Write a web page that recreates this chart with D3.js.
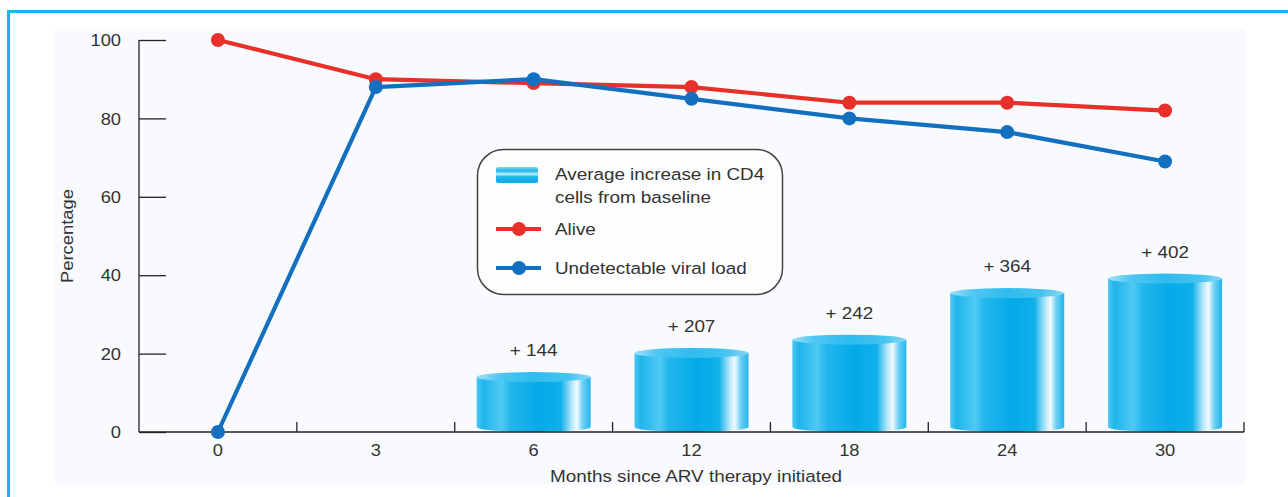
<!DOCTYPE html>
<html><head><meta charset="utf-8">
<script src="https://cdn.jsdelivr.net/npm/d3@7"></script>
<style>
html,body{margin:0;padding:0;background:#fff;}
svg{display:block;font-family:"Liberation Sans",Arial,Helvetica,sans-serif;}
</style></head>
<body><svg id="c" width="1288" height="497"></svg>
<script>
const months = ["0","3","6","12","18","24","30"];
const alive = [100, 90, 89, 88, 84, 84, 82];
const undetectable = [0, 88, 90, 85, 80, 76.5, 69];
const cd4Months = ["6","12","18","24","30"];
const cd4Increase = [144, 207, 242, 364, 402];
const yTicks = [0, 20, 40, 60, 80, 100];
const legendLabels = ["Average increase in CD4", "cells from baseline", "Alive", "Undetectable viral load"];

const svg = d3.select("#c");
const defs = svg.append("defs");
const RED = "#e8302a", BLUE = "#1370c0", TXT = "#333";
const FS = 17, TFS = 16.5, SX = 1.11;

function label(parent, x, y, str, anchor) {
  return parent.append("text").attr("transform", `translate(${x},${y}) scale(${SX},1)`)
    .attr("text-anchor", anchor || "start").attr("font-size", FS).attr("fill", TXT).text(str);
}

// frame
svg.append("rect").attr("x", 8.5).attr("y", 11.5).attr("width", 1290).attr("height", 500)
  .attr("fill", "none").attr("stroke", "#1bb3ee").attr("stroke-width", 3);
// plot background
svg.append("rect").attr("x", 55).attr("y", 29).attr("width", 1190).attr("height", 456).attr("fill", "#f9fafd");

const x = d3.scaleBand().domain(months).range([139, 1244]).padding(0);
const y = d3.scaleLinear().domain([0, 100]).range([432, 40]);
const yc = d3.scaleLinear().domain([0, 1027]).range([432, 40]);

// gradient for cylinders
const g1 = defs.append("linearGradient").attr("id", "cyl").attr("x1", 0).attr("x2", 1).attr("y1", 0).attr("y2", 0);
[[0, "#4cc6f2"], [0.06, "#1fb5ec"], [0.22, "#4fcaf4"], [0.3, "#22b6ec"], [0.55, "#03aae8"], [0.74, "#10b0ea"],
 [0.84, "#bfeafc"], [0.88, "#f2fbff"], [0.93, "#6fd0f4"], [1, "#20b4ec"]]
  .forEach(([o, c]) => g1.append("stop").attr("offset", o).attr("stop-color", c));
const g2 = defs.append("linearGradient").attr("id", "cyltop").attr("x1", 0).attr("x2", 1).attr("y1", 0).attr("y2", 0);
[[0, "#9fe0f8"], [0.2, "#4ec6f2"], [0.5, "#2fbcee"], [0.8, "#45c3f0"], [1, "#8ad9f6"]]
  .forEach(([o, c]) => g2.append("stop").attr("offset", o).attr("stop-color", c));

// y axis
const yAxis = d3.axisRight(y).tickValues(yTicks).tickSize(27).tickFormat(d3.format("d"));
const ya = svg.append("g").attr("transform", "translate(139,0)").call(yAxis);
ya.select(".domain").remove();
ya.selectAll(".tick line").attr("stroke", "#222").attr("stroke-width", 1.3);
ya.selectAll(".tick text").attr("x", -18 / SX).attr("text-anchor", "end").attr("font-size", TFS)
  .attr("transform", `scale(${SX},1)`)
  .attr("fill", TXT).attr("font-family", "Liberation Sans, Arial, sans-serif").attr("dy", "0.35em");
svg.append("line").attr("x1", 139).attr("x2", 139).attr("y1", y(100)).attr("y2", y(0))
  .attr("stroke", "#222").attr("stroke-width", 1.3);

// cylinders
const bw = 114, ry = 5;
const bars = svg.append("g");
cd4Months.forEach((m, i) => {
  const cx = x(m) + x.bandwidth() / 2, x0 = cx - bw / 2;
  const top = yc(cd4Increase[i]), bot = yc(0) - ry;
  bars.append("path")
    .attr("d", `M${x0},${top} L${x0},${bot} A${bw/2},${ry} 0 0 0 ${x0+bw},${bot} L${x0+bw},${top} Z`)
    .attr("fill", "url(#cyl)");
  bars.append("ellipse").attr("cx", cx).attr("cy", top).attr("rx", bw / 2).attr("ry", ry).attr("fill", "url(#cyltop)");
  label(bars, cx, top - 21, "+ " + cd4Increase[i], "middle");
});

// x axis
const xAxis = d3.axisBottom(x).tickSize(0).tickPadding(12);
const xa = svg.append("g").attr("transform", "translate(0,432)").call(xAxis);
xa.select(".domain").remove();
xa.selectAll(".tick text").attr("font-size", TFS).attr("fill", TXT).attr("transform", `scale(${SX},1)`)
  .attr("font-family", "Liberation Sans, Arial, sans-serif");
svg.append("line").attr("x1", 139).attr("x2", 1244).attr("y1", 432).attr("y2", 432).attr("stroke", "#222").attr("stroke-width", 1.3);
svg.append("g").selectAll("line").data(months.slice(1).concat(["end"])).join("line")
  .attr("x1", d => d === "end" ? 1244 : x(d)).attr("x2", d => d === "end" ? 1244 : x(d))
  .attr("y1", 432).attr("y2", 422).attr("stroke", "#222").attr("stroke-width", 1.3);

// titles
label(svg, 696, 482, "Months since ARV therapy initiated", "middle");
svg.append("text").attr("transform", "translate(73,236) rotate(-90) scale(1.08,1)").attr("text-anchor", "middle")
  .attr("font-size", FS).attr("fill", TXT).text("Percentage");

// lines
const line = d3.line().x((d, i) => x(months[i]) + x.bandwidth() / 2).y(d => y(d));
function series(data, color) {
  svg.append("path").datum(data).attr("d", line).attr("fill", "none").attr("stroke", color)
    .attr("stroke-width", 4.2).attr("stroke-linejoin", "round");
  svg.append("g").selectAll("circle").data(data).join("circle")
    .attr("cx", (d, i) => x(months[i]) + x.bandwidth() / 2).attr("cy", d => y(d)).attr("r", 7).attr("fill", color);
}
series(alive, RED);
series(undetectable, BLUE);

// legend
const lg = svg.append("g");
lg.append("rect").attr("x", 477.5).attr("y", 149.5).attr("width", 305).attr("height", 145).attr("rx", 26)
  .attr("fill", "#fdfdfe").attr("stroke", "#444").attr("stroke-width", 1.5);
const gs = defs.append("linearGradient").attr("id", "sw").attr("x1", 0).attr("x2", 0).attr("y1", 0).attr("y2", 1);
[[0, "#7fd6f6"], [0.25, "#20b4ec"], [0.45, "#c8eefc"], [0.6, "#22b6ec"], [1, "#0aa9e6"]]
  .forEach(([o, c]) => gs.append("stop").attr("offset", o).attr("stop-color", c));
lg.append("rect").attr("x", 496).attr("y", 167).attr("width", 42).attr("height", 16).attr("rx", 2).attr("fill", "url(#sw)");
label(lg, 555, 180, legendLabels[0]);
label(lg, 555, 203, legendLabels[1]);
[[RED, 229, 2], [BLUE, 268, 3]].forEach(([c, yy, li]) => {
  lg.append("line").attr("x1", 496).attr("x2", 541).attr("y1", yy).attr("y2", yy).attr("stroke", c).attr("stroke-width", 4);
  lg.append("circle").attr("cx", 519).attr("cy", yy).attr("r", 7).attr("fill", c);
  label(lg, 555, yy + 6, legendLabels[li]);
});
</script></body></html>
